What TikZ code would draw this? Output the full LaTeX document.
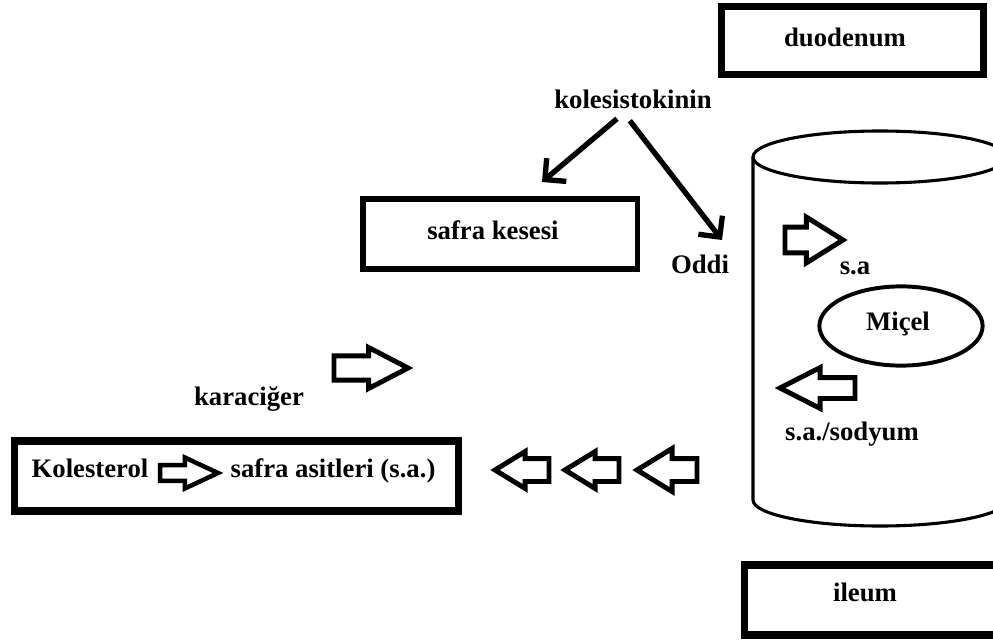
\documentclass[tikz,border=0pt]{standalone}
\usepackage{fontspec}
\setmainfont{Liberation Serif}
\usetikzlibrary{arrows.meta,shapes.arrows,shapes.geometric,positioning}

\tikzset{
  lbl/.style={font=\fontsize{19}{22}\selectfont\bfseries, inner sep=0pt, text height=3.2pt, text depth=0pt, yshift=-0.07cm},
  organ/.style={draw, line width=5pt, inner sep=0pt},
  fatarrow/.style={single arrow, draw, line width=3.5pt, inner sep=0pt, outer sep=0pt},
  hormone/.style={line width=3.8pt, -{Straight Barb[length=3.8mm,width=7.6mm]}},
}

\begin{document}
\begin{tikzpicture}[x=0.025cm, y=-0.025cm]
\useasboundingbox (0,0) rectangle (993,644);
\clip (0,0) rectangle (993,644);

%boxes
\node[organ, minimum width=6.55cm, minimum height=1.7cm] (duo) at (852.5,40.5) {};
\node[lbl] (duoT) at (845,41) {duodenum};
\node[organ, line width=3.6pt, minimum width=6.85cm, minimum height=1.75cm] (kese) at (500,234) {};
\node[lbl] (keseT) at (493,234) {safra kesesi};
\node[organ, minimum width=11.1cm, minimum height=1.75cm] (karac) at (236.5,476) {};
\node[organ, minimum width=6.45cm, minimum height=1.75cm] (ileum) at (874,600) {};
\node[lbl] (ileumT) at (865,596) {ileum};

%hormone
\node[lbl] (kck) at (633,103) {kolesistokinin};
\node[lbl] (oddi) at (700,268) {Oddi};
\coordinate (keseTip) at (542,182);
\coordinate (oddiTip) at (722,240);
\draw[hormone] ([xshift=-0.4cm,yshift=-0.26cm]kck.south) -- (keseTip);
\draw[hormone] ([xshift=-0.08cm,yshift=-0.31cm]kck.south) -- (oddiTip);

%cylinder (ileum lumen)
\draw[line width=2.2pt] (880,157) ellipse [x radius=3.175cm, y radius=0.65cm];
\draw[line width=2.2pt] (753,157) -- (753,500)
  arc[start angle=180, end angle=360, x radius=3.175cm, y radius=0.65cm] -- (1007,157);
\node[draw, ellipse, line width=2.8pt, minimum width=4.08cm, minimum height=1.98cm] (micel) at (901,326) {};
\node[lbl] (micelT) at (898,325) {Miçel};
\node[fatarrow, anchor=tail, minimum height=1.45cm, inner ysep=0.26cm,
  single arrow head extend=0.25cm, single arrow tip angle=64] (saIn) at (785,240) {};
\node[lbl] (sa) at (855,269) {s.a};
\node[fatarrow, anchor=tip, shape border rotate=180, minimum height=1.875cm, inner ysep=0.2cm,
  single arrow head extend=0.25cm, single arrow tip angle=54] (saOut) at (780,388) {};
\node[lbl] (sodyum) at (852,435) {s.a./sodyum};

%liver
\node[lbl] (kcg) at (249,400) {karaciğer};
\node[fatarrow, anchor=tail, minimum height=1.85cm, inner ysep=0.24cm,
  single arrow head extend=0.21cm, single arrow tip angle=55] (toKese) at (334,368) {};
\node[lbl] (kol) at (90,472) {Kolesterol};
\node[fatarrow, line width=3.2pt, anchor=tail, minimum height=1.45cm, inner ysep=0.14cm,
  single arrow head extend=0.19cm, single arrow tip angle=50] (kolArr) at (160,473) {};
\node[lbl] (asit) at (333,472) {safra asitleri (s.a.)};

%return to liver
\foreach \tipx/\ext/\len [count=\i] in {495/0.175/1.35, 565/0.175/1.35, 637/0.25/1.5}
  \node[fatarrow, anchor=tip, shape border rotate=180, minimum height=\len cm, inner ysep=0.225cm,
    single arrow head extend=\ext cm, single arrow tip angle=63] (back\i) at (\tipx,470) {};
\end{tikzpicture}
\end{document}
